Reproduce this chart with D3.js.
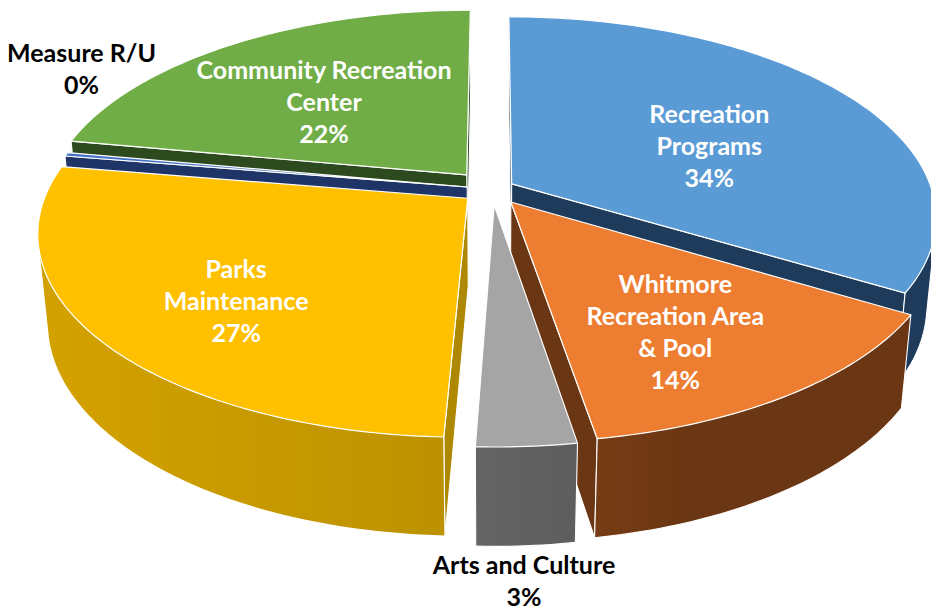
<!DOCTYPE html>
<html>
<head>
<meta charset="utf-8">
<script src="https://cdn.jsdelivr.net/npm/d3@7"></script>
<style>
  html, body { margin: 0; background: #ffffff; }
  svg { display: block; }
  text { font-family: Lato, "Open Sans", sans-serif; font-weight: 700; }
</style>
</head>
<body>
<svg id="chart" width="931" height="614"></svg>
<script>
// ---- data (share of budget, %) ----
const categories = [
  "Recreation Programs",
  "Whitmore Recreation Area & Pool",
  "Arts and Culture",
  "Parks Maintenance",
  "Measure R/U",
  "Community Recreation Center"
];
const values = [33.6, 13.8, 3.2, 27.0, 0.3, 22.1];
const labelLines = [
  ["Recreation", "Programs"],
  ["Whitmore", "Recreation Area", "& Pool"],
  ["Arts and Culture"],
  ["Parks", "Maintenance"],
  ["Measure R/U"],
  ["Community Recreation", "Center"]
];

// ---- styling ----
const topColors  = ["#5B9BD5", "#ED7D31", "#A5A5A5", "#FFC000", "#4472C4", "#70AD47"];
const sideColors = ["#1F3B5C", "#6B3613", "#575757", "#AE8800", "#1F3568", "#2D4A1E"];
const explode    = [0.054, 0.079, 0.081, 0.074, 0.06, 0.095];
const labelAngleShift = [7.1, 3.7, 1.5, -4.4, 23.1, -2.6];   // degrees from slice middle
const labelRadius     = [0.53, 0.68, 1.425, 0.69, 1.225, 0.55];
const labelInside     = [true, true, false, true, false, true];

// ---- 3D projection ----
const cx = 492, cy = 189, f = 420;
const sinA = 0.467, cosA = Math.sqrt(1 - sinA * sinA);
const Dcam = 5.36, depth = 0.24;
const cam = [0, Dcam * sinA, Dcam * cosA];

function project(X, Y, Z) {
  const v = Y * cosA - Z * sinA;
  const w = Y * sinA + Z * cosA;
  const s = Dcam / (Dcam - w);
  return [cx + f * X * s, cy - f * v * s];
}
function dist(p) {
  return Math.hypot(p[0] - cam[0], p[1] - cam[1], p[2] - cam[2]);
}
function facing(n, c) {
  return n[0] * (cam[0] - c[0]) + n[1] * (cam[1] - c[1]) + n[2] * (cam[2] - c[2]) > 0;
}
function centroid(pts) {
  const c = [0, 0, 0];
  pts.forEach(p => { c[0] += p[0]; c[1] += p[1]; c[2] += p[2]; });
  return c.map(d => d / pts.length);
}
const fmt = p => project(p[0], p[1], p[2]).map(d => d.toFixed(2)).join(",");
const pathOf = pts => "M" + pts.map(fmt).join("L") + "Z";
const lineOf = pts => "M" + pts.map(fmt).join("L");

const total = d3.sum(values);
const arcs = d3.pie().sort(null).value(d => d)(values);

const svg = d3.select("#chart");
const defs = svg.append("defs");
const gSides = svg.append("g");
const gTops = svg.append("g");
const gLabels = svg.append("g");

const sideItems = [];
const topItems = [];
const lightDir = 250 * Math.PI / 180;

arcs.forEach((a, i) => {
  const a0 = a.startAngle, a1 = a.endAngle, mid = (a0 + a1) / 2;
  const ox = explode[i] * Math.sin(mid), oz = -explode[i] * Math.cos(mid);
  const P = (t, y) => [ox + Math.sin(t), y, oz - Math.cos(t)];
  const steps = Math.max(2, Math.ceil((a1 - a0) / (Math.PI / 180)));
  const ts = d3.range(steps + 1).map(k => a0 + (a1 - a0) * k / steps);

  // top face
  const top = [[ox, 0, oz]].concat(ts.map(t => P(t, 0)));
  topItems.push({ d: dist(centroid(top)), pts: top, i });

  // curved outer wall: keep the camera-facing run of angles
  const vis = ts.filter(t => {
    const n = [Math.sin(t), 0, -Math.cos(t)];
    return facing(n, P(t, -depth / 2));
  });
  if (vis.length >= 2) {
    const upper = vis.map(t => P(t, 0));
    const lower = vis.map(t => P(t, -depth)).reverse();
    const x0 = project(...upper[0])[0], x1 = project(...upper[upper.length - 1])[0];
    const gid = "wall" + i;
    const grad = defs.append("linearGradient").attr("id", gid)
      .attr("gradientUnits", "userSpaceOnUse")
      .attr("x1", x0).attr("x2", x1).attr("y1", 0).attr("y2", 0);
    vis.forEach(t => {
      const x = project(...P(t, 0))[0];
      const off = x1 === x0 ? 0 : (x - x0) / (x1 - x0);
      const light = Math.max(0, Math.cos(t - lightDir));
      grad.append("stop").attr("offset", Math.max(0, Math.min(1, off)))
        .attr("stop-color", d3.interpolateRgb(sideColors[i], topColors[i])(0.45 * light));
    });
    const segC = vis.map(t => P(t, -depth / 2));
    sideItems.push({
      d: dist(centroid(segC)), kind: "wall",
      poly: upper.concat(lower), fill: `url(#${gid})`,
      edges: [lower.slice().reverse(), [upper[0], P(vis[0], -depth)],
              [upper[upper.length - 1], P(vis[vis.length - 1], -depth)]]
    });
  }

  // flat cut faces at both radial edges
  const apexT = [ox, 0, oz], apexB = [ox, -depth, oz];
  const f0 = [apexT, P(a0, 0), P(a0, -depth), apexB];
  const n0 = [-Math.cos(a0), 0, -Math.sin(a0)];
  if (facing(n0, centroid(f0))) sideItems.push({ d: dist(centroid(f0)), kind: "cut", poly: f0, fill: sideColors[i] });
  const f1 = [apexT, P(a1, 0), P(a1, -depth), apexB];
  const n1 = [Math.cos(a1), 0, Math.sin(a1)];
  if (facing(n1, centroid(f1))) sideItems.push({ d: dist(centroid(f1)), kind: "cut", poly: f1, fill: sideColors[i] });
});

// paint far-to-near
sideItems.sort((a, b) => b.d - a.d).forEach(it => {
  if (it.kind === "wall") {
    gSides.append("path").attr("d", pathOf(it.poly)).attr("fill", it.fill);
    it.edges.forEach(e => gSides.append("path").attr("d", lineOf(e))
      .attr("fill", "none").attr("stroke", "#ffffff").attr("stroke-width", 1.1));
  } else {
    gSides.append("path").attr("d", pathOf(it.poly))
      .attr("fill", it.fill).attr("stroke", "#ffffff").attr("stroke-width", 1.1)
      .attr("stroke-linejoin", "round");
  }
});

topItems.sort((a, b) => b.d - a.d).forEach(it => {
  gTops.append("path").attr("d", pathOf(it.pts))
    .attr("fill", topColors[it.i]).attr("stroke", "#ffffff").attr("stroke-width", 1.2)
    .attr("stroke-linejoin", "round");
});

// ---- labels ----
const fontSize = 25, lineH = 32;
arcs.forEach((a, i) => {
  const mid = (a.startAngle + a.endAngle) / 2;
  const ox = explode[i] * Math.sin(mid), oz = -explode[i] * Math.cos(mid);
  const t = mid + labelAngleShift[i] * Math.PI / 180, r = labelRadius[i];
  const [lx, ly] = project(ox + r * Math.sin(t), 0, oz - r * Math.cos(t));
  const lines = labelLines[i].concat([Math.round(values[i] / total * 100) + "%"]);
  const y0 = ly - (lines.length - 1) * lineH / 2;
  const txt = gLabels.append("text")
    .attr("text-anchor", "middle")
    .attr("font-size", fontSize)
    .attr("fill", labelInside[i] ? "#ffffff" : "#000000");
  lines.forEach((s, k) => txt.append("tspan")
    .attr("x", lx).attr("y", y0 + k * lineH).attr("dy", "0.35em").text(s));
});
</script>
</body>
</html>
